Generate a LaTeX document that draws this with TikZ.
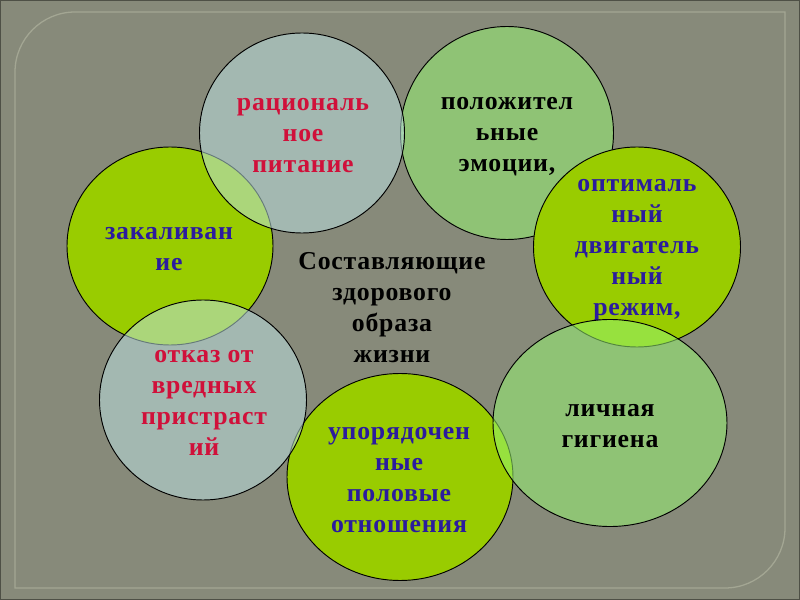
\documentclass[tikz,border=0pt]{standalone}
\usepackage{fontspec}
\setmainfont{Liberation Serif}[LetterSpace=3]
\usepackage{tikz}
\usetikzlibrary{shapes.geometric}
\definecolor{BgGry}  {HTML}{878A7A}
\definecolor{EdgeDk} {HTML}{4E5046}
\definecolor{FrameLt}{HTML}{A3A693}
\definecolor{LimeGrn}{HTML}{99CC00}
\definecolor{SoftGrn}{HTML}{97F371}
\definecolor{PaleBlu}{HTML}{BADFDF}
\definecolor{TxtRed} {HTML}{D0103A}
\definecolor{TxtBlu} {HTML}{2B1C9E}

\tikzset{
  zone/.style={ellipse, draw=black, line width=0.8pt, inner sep=0pt},
  lime/.style={zone, fill=LimeGrn},
  soft/.style={zone, fill=SoftGrn, fill opacity=0.55},
  pale/.style={zone, fill=PaleBlu, fill opacity=0.55},
  lbl/.style={font=\fontsize{22}{26.5}\selectfont\bfseries, align=center, inner sep=0pt},
}

\begin{document}
\begin{tikzpicture}[x=0.03cm, y=-0.03cm]
      % ── background and frame ────────────────────────────────────────────────
      \useasboundingbox (0,0) rectangle (800,600);
      \fill[BgGry] (0,0) rectangle (800,600);
      \draw[EdgeDk, line width=2pt] (0,0) rectangle (800,600);
      \draw[FrameLt, line width=1.1pt] (785,12) -- (75,12)
        .. controls (42,12) and (15,39) .. (15,72) -- (15,588) -- (725,588)
        .. controls (758,588) and (785,561) .. (785,528) -- cycle;

      % ── back circle ─────────────────────────────────────────────────────────
      \node[soft, minimum width=6.39cm, minimum height=6.39cm] (emo) at (507,133) {};
      \node[lbl] (emoT) at (507,137) {положител\\ьные\\эмоции,};

      % ── opaque circles ──────────────────────────────────────────────────────
      \node[lime, minimum width=6.21cm, minimum height=6.00cm] (move) at (637,247) {};
      \node[lbl, text=TxtBlu] (moveT) at (637,250) {оптималь\\ный\\двигатель\\ный\\режим,};
      \node[lime, minimum width=6.18cm, minimum height=5.94cm] (hard) at (170,246) {};
      \node[lbl, text=TxtBlu] (hardT) at (169,249) {закаливан\\ие};
      \node[lime, minimum width=6.78cm, minimum height=6.21cm] (sex) at (400,477) {};
      \node[lbl, text=TxtBlu] (sexT) at (399,480) {упорядочен\\ные\\половые\\отношения};

      % ── translucent circles ─────────────────────────────────────────────────
      \node[pale, minimum width=6.15cm, minimum height=6.00cm] (food) at (302,133) {};
      \node[lbl, text=TxtRed] (foodT) at (303,136) {рациональ\\ное\\питание};
      \node[pale, minimum width=6.21cm, minimum height=6.00cm] (habit) at (203,400) {};
      \node[lbl, text=TxtRed] (habitT) at (204,403) {отказ от\\вредных\\пристраст\\ий};
      \node[soft, minimum width=7.02cm, minimum height=6.21cm] (hyg) at (610,423) {};
      \node[lbl] (hygT) at (610,426) {личная\\гигиена};

      % ── title in the middle ─────────────────────────────────────────────────
      \node[lbl] (title) at (392,308) {Составляющие\\здорового\\образа\\жизни};
    \end{tikzpicture}
\end{document}
